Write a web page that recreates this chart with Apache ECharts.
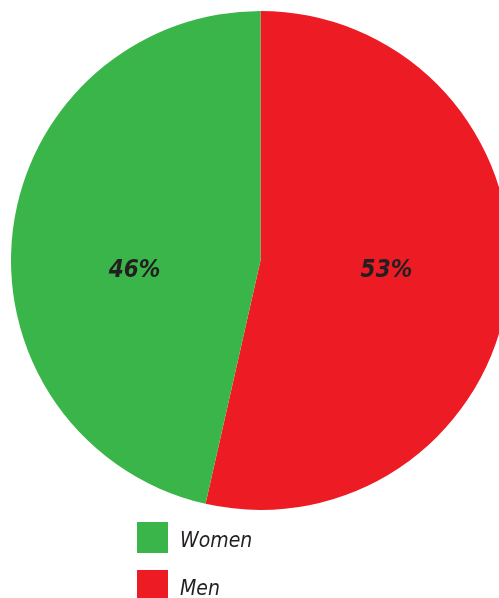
<!DOCTYPE html>
<html>
<head>
<meta charset="utf-8">
<script src="https://cdn.jsdelivr.net/npm/echarts@6/dist/echarts.min.js"></script>
<style>
  html, body { margin: 0; padding: 0; background: #ffffff; }
  #chart { width: 499px; height: 598px; }
</style>
</head>
<body>
<div id="chart"></div>
<script>
// Share of respondents by gender
const categories = ['Men', 'Women'];
const shares = [53, 46];
const legendOrder = ['Women', 'Men'];
const sliceColors = { Men: '#ED1C24', Women: '#3AB54A' };
const labelOffsets = { Men: [-1, -4], Women: [1, 24] };

const font = '"Liberation Sans Narrow", "DejaVu Sans Condensed", "Liberation Sans", sans-serif';

const chart = echarts.init(document.getElementById('chart'), null, { renderer: 'canvas' });

chart.setOption({
  animation: false,
  backgroundColor: '#ffffff',
  legend: {
    data: legendOrder,
    orient: 'vertical',
    left: 137,
    top: 522,
    width: 200,
    height: 120,
    padding: 0,
    itemWidth: 31,
    itemHeight: 31,
    itemGap: 17,
    icon: 'rect',
    selectedMode: false,
    formatter: name => '{t|' + name + '}',
    textStyle: {
      fontFamily: font,
      fontStyle: 'italic',
      fontSize: 21,
      color: '#231F20',
      rich: {
        t: {
          fontFamily: font,
          fontStyle: 'italic',
          fontSize: 21,
          color: '#231F20',
          padding: [8, 0, 0, 7]
        }
      }
    }
  },
  series: [{
    type: 'pie',
    center: [260.5, 260.5],
    radius: [0, 249.5],
    startAngle: 90,
    clockwise: true,
    avoidLabelOverlap: false,
    itemStyle: { borderWidth: 0 },
    emphasis: { disabled: true },
    label: {
      show: true,
      position: 'inside',
      formatter: p => p.value + '%',
      fontFamily: font,
      fontStyle: 'italic',
      fontWeight: 'bold',
      fontSize: 24,
      color: '#231F20'
    },
    labelLine: { show: false },
    data: categories.map((name, i) => ({
      name,
      value: shares[i],
      itemStyle: { color: sliceColors[name] },
      label: { offset: labelOffsets[name] }
    }))
  }]
});
</script>
</body>
</html>
